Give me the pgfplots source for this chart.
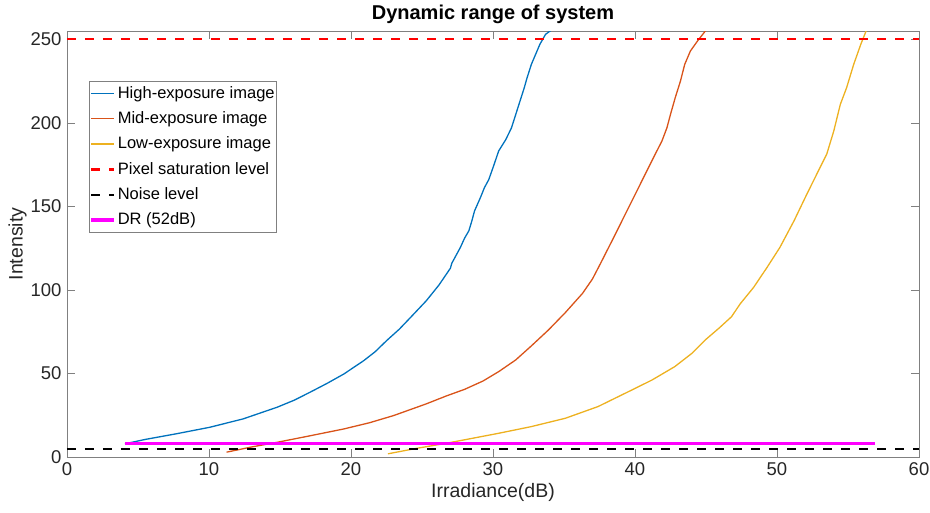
\documentclass[border=0pt]{standalone}
\usepackage{fontspec}
\setmainfont{Liberation Sans}
\usepackage{pgfplots}
\pgfplotsset{compat=1.18}
\definecolor{mblue}{rgb}{0,0.447,0.741}
\definecolor{morange}{rgb}{0.850,0.325,0.098}
\definecolor{myellow}{rgb}{0.929,0.694,0.125}
\definecolor{mmag}{rgb}{1,0,1}
\definecolor{axgray}{rgb}{0.5,0.5,0.5}
\definecolor{tickgray}{rgb}{0.15,0.15,0.15}
\begin{document}
\fontsize{16}{19}\selectfont
\begin{tikzpicture}
\useasboundingbox (-67pt,-55pt) rectangle (863pt,457pt);
\begin{axis}[
  scale only axis, width=852pt, height=426pt,
  at={(0pt,0pt)}, anchor=south west,
  xmin=0, xmax=60, ymin=0, ymax=255,
  xtick={0,10,...,60}, ytick={0,50,...,250},
  tick align=inside, major tick length=8pt,
  axis line style={draw=axgray, line width=0.7pt},
  tick style={draw=axgray, line width=0.7pt},
  ticklabel style={font=\fontsize{18.5}{22}\selectfont, text=tickgray},
  /pgf/number format/assume math mode=true,
  title={\bfseries Dynamic range of system},
  title style={font=\fontsize{20}{24}\selectfont, yshift=-4pt},
  xlabel={Irradiance(dB)}, ylabel={Intensity},
  label style={font=\fontsize{19.5}{23}\selectfont, text=tickgray},
  xlabel style={yshift=3pt},
  ylabel style={yshift=-7pt},
  legend style={at={(rel axis cs:0.0258,0.883)}, anchor=north west,
    draw=axgray, line width=0.7pt, font=\fontsize{16.5}{19}\selectfont,
    inner xsep=0pt, inner ysep=3pt, row sep=7pt},
  legend cell align=left,
  legend image code/.code={\draw[#1] (0pt,0pt) -- (23pt,0pt);},
]
\addplot[mblue, line width=1.3pt] coordinates {
(4.08,7.9)(5.5,10.5)(7.7,13.9)(10.06,17.8)(12.4,22.8)(14.8,29.8)(16.0,34)(17.1,38.7)
(18.3,44)(19.5,49.7)(20.9,57.7)(21.7,63)(22.5,69.6)(23.4,76.5)(24.2,83.6)(25.3,93.5)
(26.2,103)(27.0,113)(27.1,116)(27.7,125.4)(28.0,131)(28.3,135.4)(28.5,141)(28.7,147.3)
(29.1,155)(29.4,161.3)(29.7,166)(30.0,173.2)(30.4,183.2)(30.9,190)(31.3,197)
(31.6,205)(31.9,213)(32.2,221)(32.4,227)(32.7,235)(33.0,241)(33.3,247)
(33.7,253)(34.1,255.5)};
\addlegendentry{High-exposure image}
\addplot[morange, line width=1.3pt] coordinates {
(11.24,2.9)(13,6)(14.8,8.8)(17,12.5)(19.5,16.8)(21.3,20.5)(23.0,24.8)(25.3,31.8)
(26.7,36.5)(28.0,40.5)(29.3,45.5)(30.4,51.1)(31.6,58.1)(32.7,66.5)(33.9,76.0)
(35.1,86.5)(36.3,97.9)(37.0,106.5)(37.55,115.5)(38.5,131.4)(39.43,147.3)(40.37,163.3)
(41.3,179.2)(41.9,189.2)(42.25,197.1)(42.5,205.1)(42.83,215)(43.2,225)(43.5,235)
(43.9,243)(44.4,249)(45.0,255.5)};
\addlegendentry{Mid-exposure image}
\addplot[myellow, line width=1.3pt] coordinates {
(22.6,1.9)(24.5,5)(26.7,8.2)(28.0,10.3)(30.4,14.2)(32.7,18.2)(35.1,23.2)
(37.4,30.2)(38.6,35.2)(39.8,40.2)(41.2,46.1)(42.8,54.1)(44.0,62.0)(44.95,70.1)
(45.9,77.0)(46.8,84.0)(47.4,91.6)(48.35,101.5)(49.3,113.5)(50.2,125.4)(51.2,141.4)
(52.1,157.3)(52.8,169.3)(53.5,181.2)(54.0,195.2)(54.46,211.1)(54.9,221)(55.4,235)
(55.9,247)(56.3,255.5)};
\addlegendentry{Low-exposure image}
\addplot[red, line width=2.2pt, dash pattern=on 9pt off 9pt] coordinates {(0,250)(60,250)};
\addlegendentry{Pixel saturation level}
\addplot[black, line width=2.2pt, dash pattern=on 9pt off 9pt] coordinates {(0,5)(60,5)};
\addlegendentry{Noise level}
\addplot[mmag, line width=3.5pt] coordinates {(4.08,8)(56.9,8)};
\addlegendentry{DR (52dB)}
\end{axis}
\end{tikzpicture}
\end{document}
